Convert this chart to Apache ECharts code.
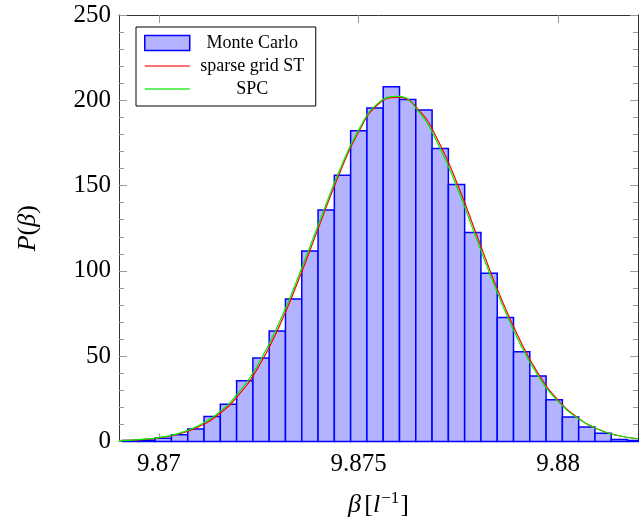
<!DOCTYPE html>
<html>
<head>
<meta charset="utf-8">
<script src="https://cdn.jsdelivr.net/npm/echarts@6/dist/echarts.min.js"></script>
<style>
  html, body { margin: 0; padding: 0; background: #fff; }
  #main { width: 644px; height: 523px; }
</style>
</head>
<body>
<div id="main"></div>
<script>
  // histogram bins (Monte Carlo)
  const binStart = 9.86909;
  const binWidth = 0.000408;
  const histDensity = [0.6, 0.8, 1.9, 3.9, 7.4, 14.6, 21.8, 35.6, 48.9, 64.8, 83.6, 111.7, 135.7, 156.1, 182.2, 195.5,
    208.0, 200.4, 194.3, 171.7, 150.6, 122.5, 98.6, 72.7, 52.6, 38.4, 24.4, 14.3, 8.5, 4.9, 1.2, 0.6];

  // curve sample points
  const curveBeta = [9.869, 9.8695, 9.870, 9.8705, 9.871, 9.8715, 9.872, 9.8725, 9.873, 9.8735, 9.874, 9.8745, 9.875,
    9.8755, 9.876, 9.8765, 9.877, 9.8775, 9.878, 9.8785, 9.879, 9.8795, 9.880, 9.8805, 9.881, 9.8815, 9.882];
  const sparseGridST = [0.5, 1.0, 2.1, 4.4, 8.7, 16.0, 27.3, 44.0, 66.8, 94.8, 125.5, 155.8, 181.4,
    197.8, 201.7, 194.5, 176.0, 149.5, 118.5, 88.0, 61.5, 39.8, 24.2, 13.8, 7.2, 3.5, 1.6];
  const spc = [0.5, 1.1, 2.3, 4.8, 9.4, 17.0, 28.8, 46.0, 69.0, 97.0, 127.5, 157.5, 182.5,
    198.5, 202.3, 193.5, 174.0, 147.0, 116.0, 86.0, 59.5, 38.5, 23.5, 13.5, 7.2, 3.5, 1.6];

  const xTicks = [9.87, 9.875, 9.88];
  const xMin = 9.869, xMax = 9.882;

  const serif = '"Liberation Serif", "DejaVu Serif", serif';
  const frameColor = '#333';
  const tickColor = '#999';
  const lineIcon = 'path://M0,0H45V1.3H0Z';

  const histData = histDensity.map((d, i) => [binStart + i * binWidth, binStart + (i + 1) * binWidth, d]);

  const myChart = echarts.init(document.getElementById('main'));

  const xAxisBase = {
    type: 'value',
    min: xMin,
    max: xMax,
    splitLine: {show: false},
    axisLine: {show: true, onZero: false, lineStyle: {color: frameColor, width: 1}},
    axisTick: {show: true, inside: true, length: 8, customValues: xTicks, lineStyle: {color: tickColor}},
  };
  const yAxisBase = {
    type: 'value',
    min: 0,
    max: 250,
    interval: 50,
    splitLine: {show: false},
    axisLine: {show: true, lineStyle: {color: frameColor, width: 1}},
    axisTick: {show: true, inside: true, length: 8, lineStyle: {color: tickColor}},
    minorTick: {show: true, splitNumber: 5, length: 5, lineStyle: {color: tickColor}},
  };

  const option = {
    animation: false,
    grid: {left: 119, right: 6, top: 15, bottom: 81},
    legend: {
      orient: 'vertical',
      left: 136,
      top: 27,
      padding: [7, 6, 8, 8],
      itemGap: 5,
      itemWidth: 45,
      itemHeight: 15,
      symbolKeepAspect: true,
      backgroundColor: '#fff',
      borderColor: '#000',
      borderWidth: 1,
      borderRadius: 0,
      formatter: name => '{c|' + name + '}',
      textStyle: {
        rich: {
          c: {width: 115, align: 'center', fontFamily: serif, fontSize: 18, lineHeight: 20, color: '#000'}
        }
      },
      data: [
        {name: 'Monte Carlo', icon: 'rect', itemStyle: {color: '#b3b3ff', borderColor: '#0000ff', borderWidth: 1.5}},
        {name: 'sparse grid ST', icon: lineIcon, itemStyle: {color: '#ff4040', borderWidth: 0}},
        {name: 'SPC', icon: lineIcon, itemStyle: {color: '#30ee30', borderWidth: 0}}
      ]
    },
    xAxis: [
      Object.assign({}, xAxisBase, {
        position: 'bottom',
        axisLabel: {
          customValues: xTicks, margin: 10, color: '#000', fontFamily: serif, fontSize: 25,
          formatter: v => String(+v.toFixed(4))
        },
        name: '{i|β} {r|[}{i|l}{sup|−1}{r|]}',
        nameLocation: 'middle',
        nameGap: 49,
        nameTextStyle: {
          rich: {
            i: {fontFamily: serif, fontStyle: 'italic', fontSize: 26, color: '#000'},
            r: {fontFamily: serif, fontSize: 26, color: '#000'},
            sup: {fontFamily: serif, fontSize: 17, color: '#000', padding: [0, 1, 12, 1]}
          }
        }
      }),
      Object.assign({}, xAxisBase, {position: 'top', axisLabel: {show: false}})
    ],
    yAxis: [
      Object.assign({}, yAxisBase, {
        position: 'left',
        axisLabel: {margin: 8, color: '#000', fontFamily: serif, fontSize: 25},
        name: '{i|P}{r|(}{i|β}{r|)}',
        nameLocation: 'middle',
        nameGap: 78,
        nameRotate: 90,
        nameTextStyle: {
          rich: {
            i: {fontFamily: serif, fontStyle: 'italic', fontSize: 26, color: '#000'},
            r: {fontFamily: serif, fontSize: 26, color: '#000'}
          }
        }
      }),
      Object.assign({}, yAxisBase, {position: 'right', axisLabel: {show: false}})
    ],
    series: [
      {
        name: 'Monte Carlo',
        type: 'custom',
        xAxisIndex: 0,
        yAxisIndex: 0,
        itemStyle: {color: '#b3b3ff', borderColor: '#0000ff', borderWidth: 1.5},
        encode: {x: [0, 1], y: 2},
        data: histData,
        renderItem: function (params, api) {
          const x0 = api.value(0);
          const x1 = Math.min(api.value(1), xMax);
          const p0 = api.coord([x0, api.value(2)]);
          const p1 = api.coord([x1, 0]);
          return {
            type: 'rect',
            shape: {x: p0[0], y: p0[1], width: p1[0] - p0[0], height: p1[1] - p0[1]},
            style: {fill: '#b3b3ff', stroke: '#0000ff', lineWidth: 1.5}
          };
        }
      },
      {
        name: 'sparse grid ST',
        type: 'line',
        smooth: true,
        symbol: 'none',
        data: curveBeta.map((b, i) => [b, sparseGridST[i]]),
        itemStyle: {color: '#ff0000'},
        lineStyle: {color: '#ff0000', width: 1.2}
      },
      {
        name: 'SPC',
        type: 'line',
        smooth: true,
        symbol: 'none',
        data: curveBeta.map((b, i) => [b, spc[i]]),
        itemStyle: {color: '#00ee00'},
        lineStyle: {color: '#00ee00', width: 1.2}
      }
    ]
  };
  myChart.setOption(option);
</script>
</body>
</html>
